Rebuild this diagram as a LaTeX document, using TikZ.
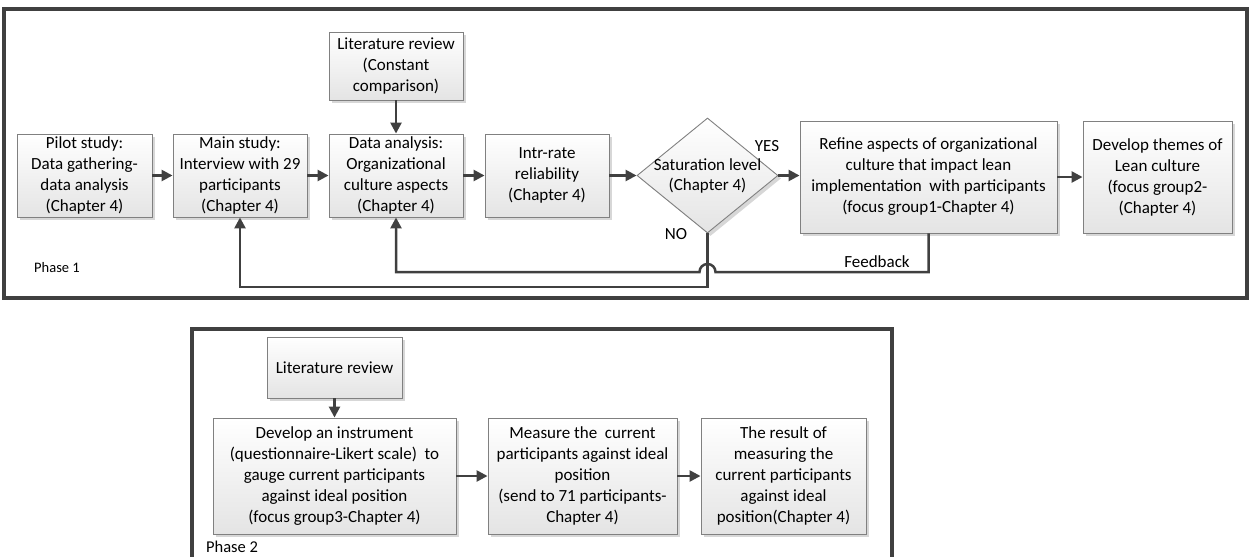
\documentclass[tikz,border=0pt]{standalone}
\usepackage{fontspec}
\setmainfont{Carlito}
\definecolor{flowdark}{RGB}{64,64,64}
\definecolor{flowedge}{RGB}{128,128,128}
\definecolor{flowfill}{RGB}{228,228,228}
\definecolor{flowshade}{RGB}{215,215,215}
\usetikzlibrary{arrows.meta,positioning,shapes.geometric,calc,shadows}

\begin{document}
\begin{tikzpicture}[x=1pt, y=1pt,
    stepbox/.style={draw=flowedge, line width=0.9pt, top color=white, bottom color=flowfill,
      drop shadow={shadow xshift=3pt, shadow yshift=-3pt, fill=flowshade, opacity=1},
      align=center, inner sep=2pt, font=\fontsize{17}{21}\selectfont},
    decision/.style={stepbox, diamond, inner sep=0pt},
    flow/.style={flowdark, line width=2.5pt, -{Triangle[length=11pt, width=11pt]}},
    loopline/.style={flowdark, line width=2.5pt},
    frame/.style={flowdark, line width=3.5pt},
    note/.style={font=\fontsize{17}{20}\selectfont, inner sep=0pt}]

\useasboundingbox (0,0) rectangle (1254,-557);

% --- Phase 1 ---
\draw[frame] (4,-9) rectangle (1247,-298);
\node[note, font=\fontsize{14.5}{17}\selectfont] (phase1) at (57,-268) {Phase 1};

\node[stepbox, minimum width=135pt, minimum height=83pt] (pilot) at (84.5,-175.5)
  {Pilot study:\\Data gathering-\\data analysis\\(Chapter 4)};
\node[stepbox, minimum width=134pt, minimum height=83pt] (main) at (240,-175.5)
  {Main study:\\Interview with 29\\participants\\(Chapter 4)};
\node[stepbox, minimum width=134pt, minimum height=68pt] (litrev) at (396,-66)
  {Literature review\\(Constant\\comparison)};
\node[stepbox, minimum width=134pt, minimum height=83pt] (analysis) at (396,-175.5)
  {Data analysis:\\Organizational\\culture aspects\\(Chapter 4)};
\node[stepbox, minimum width=124pt, minimum height=83pt] (intr) at (547,-175.5)
  {Intr-rate\\reliability\\(Chapter 4)};
\node[decision, minimum width=141pt, minimum height=115pt,
      label={[note, align=center]center:Saturation level\\(Chapter 4)}] (sat) at (707.5,-175.5) {};
\node[stepbox, minimum width=257pt, minimum height=112pt] (refine) at (928.5,-177)
  {Refine aspects of organizational\\culture that impact lean\\implementation~ with participants\\(focus group1-Chapter 4)};
\node[stepbox, minimum width=149pt, minimum height=112pt] (themes) at (1157.5,-177)
  {Develop themes of\\Lean culture\\(focus group2-\\(Chapter 4)};

% main flow
\draw[flow] (pilot) -- (main);
\draw[flow] (main) -- (analysis);
\draw[flow] (litrev) -- (analysis);
\draw[flow] (analysis) -- (intr);
\draw[flow] (intr) -- (sat);
\draw[flow] (sat.east) -- (sat.east -| refine.west);
\draw[flow] (refine.east |- themes.west) -- (themes.west);
\node[note] (yes) at (767,-146) {YES};
\node[note] (no) at (676,-234) {NO};

% loops back
\coordinate (fbrow) at (0,-272);
\coordinate (norow) at (0,-287);
\draw[loopline] (sat.south) -- (sat.south |- norow) -| ([yshift=-11pt]main.south);
\draw[flow] ([yshift=-12pt]main.south) -- (main.south);
\draw[loopline] (refine.south) |- ([xshift=8pt]sat.south |- fbrow)
  arc[start angle=0, end angle=180, radius=8pt] -- (analysis.south |- fbrow)
  -- ([yshift=-11pt]analysis.south);
\draw[flow] ([yshift=-12pt]analysis.south) -- (analysis.south);
\node[note] (feedback) at (877,-262) {Feedback};

% --- Phase 2 ---
\draw[frame] (192,-329) rectangle (892,-575);
\node[note, font=\fontsize{16.5}{19}\selectfont] (phase2) at (232,-547) {Phase 2};

\node[stepbox, minimum width=135pt, minimum height=61pt] (litrev2) at (334.5,-367.5)
  {Literature review};
\node[stepbox, minimum width=243pt, minimum height=116pt] (instrument) at (334.5,-476)
  {Develop an instrument\\(questionnaire-Likert scale)~ to\\gauge current participants\\against ideal position\\(focus group3-Chapter 4)};
\node[stepbox, minimum width=189pt, minimum height=116pt] (measure) at (582.5,-476)
  {Measure the~ current\\participants against ideal\\position\\(send to 71 participants-\\Chapter 4)};
\node[stepbox, minimum width=165pt, minimum height=116pt] (result) at (783.5,-476)
  {The result of\\measuring the\\current participants\\against ideal\\position(Chapter 4)};

\draw[flow] (litrev2) -- (instrument);
\draw[flow] (instrument) -- (measure);
\draw[flow] (measure) -- (result);

\end{tikzpicture}
\end{document}
